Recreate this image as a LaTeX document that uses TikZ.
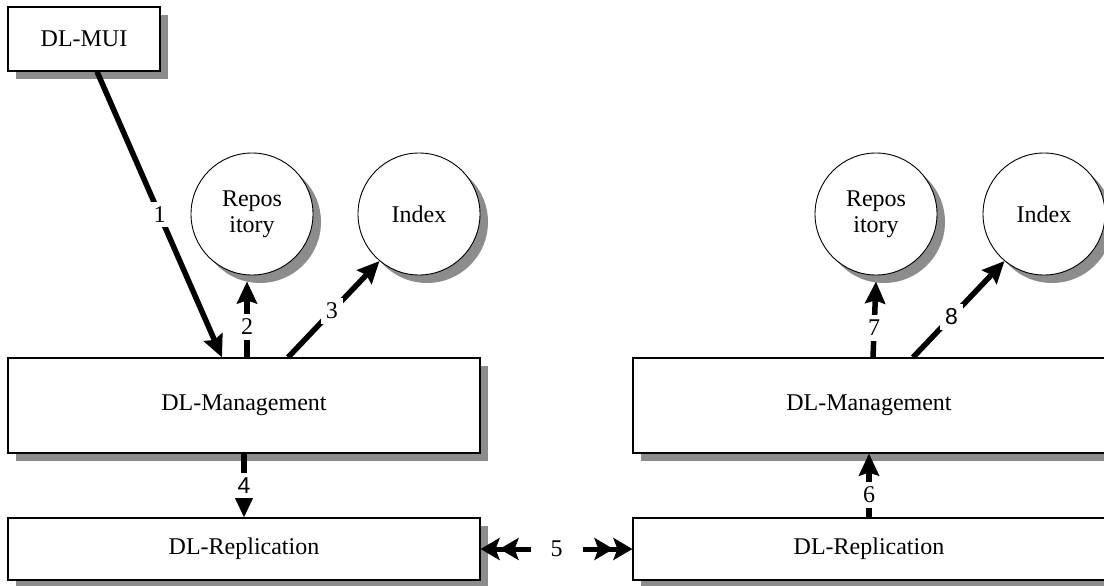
\documentclass[tikz,border=0pt]{standalone}
\usepackage{fontspec}
\setmainfont{Liberation Serif}
\newfontfamily\sansf{Liberation Sans}
\usetikzlibrary{arrows.meta,shadows}
\begin{document}
\begin{tikzpicture}[x=1pt,y=-1pt,
  shad/.style={general shadow={fill=black!45, shadow xshift=8pt, shadow yshift=-8pt}},
  box/.style={draw=black, line width=1.2pt, fill=white, shad, inner sep=0pt,
    font=\fontsize{24}{28}\selectfont},
  store/.style={circle, draw=black, line width=0.9pt, fill=white, shad, inner sep=0pt,
    minimum size=122pt, align=center, font=\fontsize{24}{26}\selectfont},
  arr/.style={line width=5.5pt, -{Stealth[length=22pt,width=20pt,inset=3pt]}},
  dtip/.style={},
  darr/.style={line width=5pt,
    {Stealth[length=19pt,width=22pt,inset=4pt]Stealth[length=19pt,width=22pt,inset=4pt]}-{Stealth[length=19pt,width=22pt,inset=4pt]Stealth[length=19pt,width=22pt,inset=4pt]}},
  lbl/.style={fill=white, inner sep=5pt, font=\fontsize{24}{28}\selectfont},
  slbl/.style={lbl, font=\fontsize{23}{28}\sansf}]
\useasboundingbox (0,0) rectangle (1104,586);
% boxes
\node[box, minimum width=152pt, minimum height=64pt] (mui) at (84,39) {DL-MUI};
\node[box, minimum width=472pt, minimum height=95pt] (mgmt) at (244,405.5) {DL-Management};
\node[box, minimum width=472pt, minimum height=62pt] (repl) at (244,549) {DL-Replication};
\node[box, minimum width=472pt, minimum height=95pt] (mgmt2) at (869,405.5) {DL-Management};
\node[box, minimum width=472pt, minimum height=62pt] (repl2) at (869,549) {DL-Replication};
% stores
\node[store] (repo) at (252,214) {Repos\\itory};
\node[store] (idx) at (419,214) {Index};
\node[store] (repo2) at (876,214) {Repos\\itory};
\node[store] (idx2) at (1044,214) {Index};
% connectors
\draw[arr] ([xshift=13pt]mui.south) -- node[lbl, pos=0.5] {1} ([xshift=-22pt]mgmt.north);
\draw[arr] ([xshift=3pt]mgmt.north) -- node[lbl, pos=0.4] {2} ([xshift=-5pt,yshift=-6pt]repo.south);
\draw[arr] ([xshift=44pt]mgmt.north) -- node[lbl, pos=0.48] {3} (idx.230);
\draw[arr] (mgmt.south) -- node[slbl, pos=0.5] {4} (repl.north);
\draw[darr] (repl.east) -- node[lbl, pos=0.5, inner xsep=20pt] {5} (repl2.west);
\draw[arr] (repl2.north) -- node[lbl, pos=0.35] {6} (mgmt2.south);
\draw[arr] ([xshift=4pt]mgmt2.north) -- node[lbl, pos=0.39] {7} ([yshift=-6pt]repo2.south);
\draw[arr] ([xshift=44pt]mgmt2.north) -- node[slbl, pos=0.42] {8} (idx2.230);
\end{tikzpicture}
\end{document}
